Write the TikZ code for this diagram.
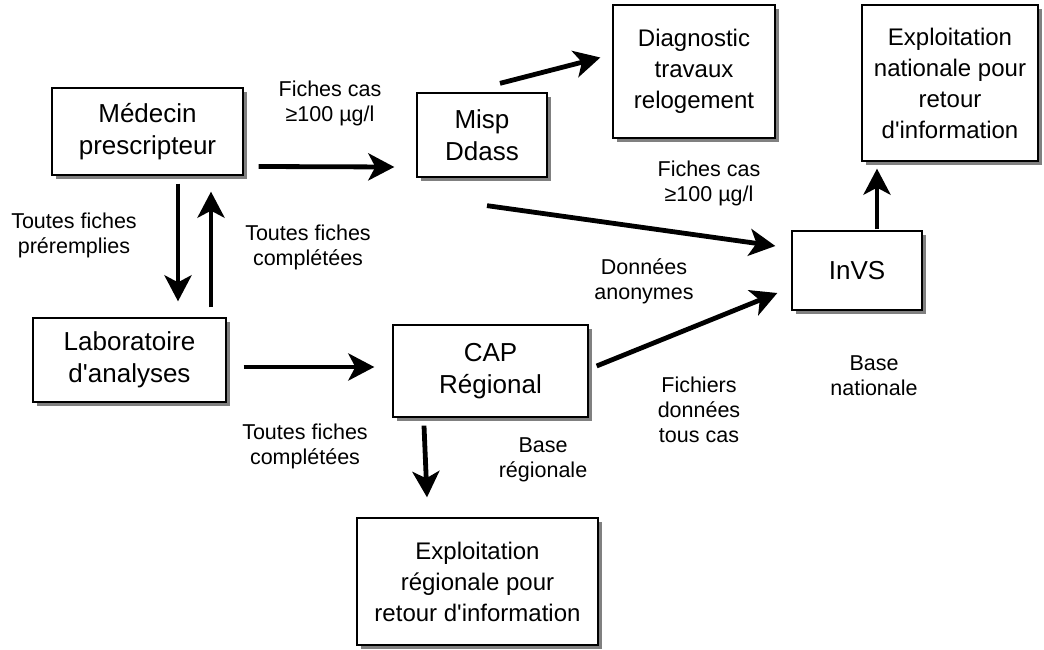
\documentclass[tikz,border=0pt]{standalone}
\usepackage{fontspec}
\setmainfont{Liberation Sans}
\usetikzlibrary{arrows.meta,shadows}

\tikzset{
  box/.style={draw, line width=1.3pt, fill=white, align=center, inner sep=0pt,
    font=\fontsize{26}{32}\selectfont,
    drop shadow={shadow xshift=4pt, shadow yshift=-4pt, fill=black!50, opacity=1}},
  bigbox/.style={box, font=\fontsize{24}{31}\selectfont},
  lbl/.style={align=center, inner sep=0pt, font=\fontsize{21.5}{25}\selectfont},
  flow/.style={line width=4.8pt, -{Stealth[length=26pt,width=27pt,inset=7pt]}}
}

\begin{document}
\begin{tikzpicture}[x=1pt,y=-1pt]
\useasboundingbox (0,0) rectangle (1044,650);

% boxes
\node[box, minimum width=191pt, minimum height=87pt] (med) at (147.5,131.5) {Médecin\\prescripteur};
\node[box, minimum width=130pt, minimum height=84pt] (misp) at (482,135) {Misp\\Ddass};
\node[bigbox, minimum width=162pt, minimum height=133pt] (diag) at (694,71.5) {Diagnostic\\travaux\\relogement};
\node[bigbox, minimum width=176pt, minimum height=156pt] (natl) at (950,83) {Exploitation\\nationale pour\\retour\\d\textquotesingle information};
\node[box, minimum width=130pt, minimum height=79pt] (invs) at (857,270.5) {InVS};
\node[box, minimum width=193pt, minimum height=84pt] (labo) at (129.5,360) {Laboratoire\\d\textquotesingle analyses};
\node[box, minimum width=195pt, minimum height=92pt] (cap) at (490.5,371) {CAP\\Régional};
\node[bigbox, minimum width=241pt, minimum height=127pt] (regl) at (477.5,581.5) {Exploitation\\régionale pour\\retour d\textquotesingle information};

% labels
\node[lbl] (fichesA) at (330,103) {Fiches cas\\≥100 µg/l};
\node[lbl] (prerem) at (74,235) {Toutes fiches\\préremplies};
\node[lbl] (complA) at (308,247) {Toutes fiches\\complétées};
\node[lbl] (fichesB) at (709,183) {Fiches cas\\≥100 µg/l};
\node[lbl] (anon) at (644,281) {Données\\anonymes};
\node[lbl] (basenat) at (874,376) {Base\\nationale};
\node[lbl] (fichiers) at (699,410) {Fichiers\\données\\tous cas};
\node[lbl] (complB) at (305,446) {Toutes fiches\\complétées};
\node[lbl] (basereg) at (543,460) {Base\\régionale};

% arrows
\draw[flow] ([xshift=15pt,yshift=-35pt]med.east) -- ([xshift=-22pt,yshift=-32pt]misp.west);
\draw[flow] ([xshift=18pt,yshift=9pt]misp.north) -- ([xshift=-12pt,yshift=14pt]diag.west);
\draw[flow] ([xshift=5pt,yshift=-28pt]misp.south) -- ([xshift=-16pt,yshift=24.5pt]invs.west);
\draw[flow] ([xshift=30.5pt,yshift=-8pt]med.south) -- ([xshift=48.5pt,yshift=16pt]labo.north);
\draw[flow] ([xshift=81.5pt,yshift=10pt]labo.north) -- ([xshift=63.5pt,yshift=-16pt]med.south);
\draw[flow] ([xshift=17pt,yshift=-7pt]labo.east) -- ([xshift=-18pt,yshift=4pt]cap.west);
\draw[flow] ([xshift=8pt,yshift=5pt]cap.east) -- ([xshift=-14pt,yshift=-22.5pt]invs.west);
\draw[flow] ([xshift=-66.5pt,yshift=-8pt]cap.south) -- ([xshift=-50.5pt,yshift=20pt]regl.north);
\draw[flow] ([xshift=20pt,yshift=1pt]invs.north) -- ([xshift=-73pt,yshift=-7pt]natl.south);

\end{tikzpicture}
\end{document}
